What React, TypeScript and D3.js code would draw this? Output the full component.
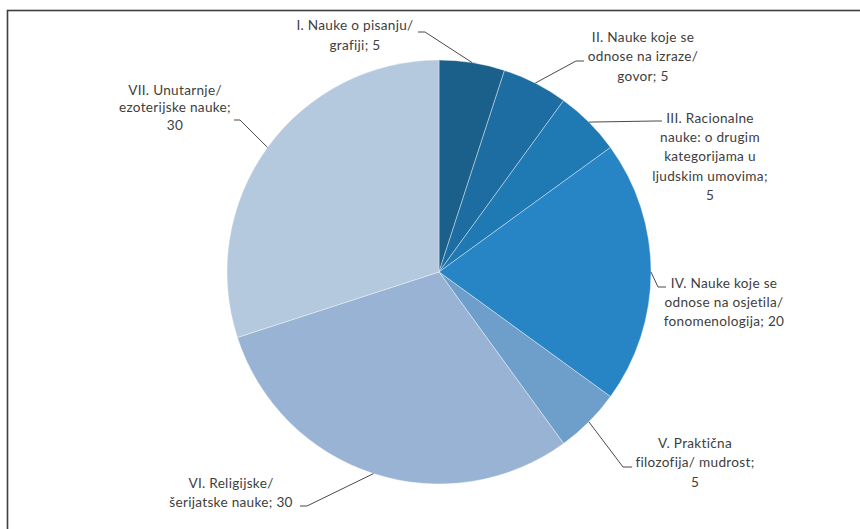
import * as React from 'react';
import * as d3 from 'd3';

const width = 860;
const height = 529;

// chart data
const categories = [
    'I. Nauke o pisanju/ grafiji',
    'II. Nauke koje se odnose na izraze/ govor',
    'III. Racionalne nauke: o drugim kategorijama u ljudskim umovima',
    'IV. Nauke koje se odnose na osjetila/ fonomenologija',
    'V. Praktična filozofija/ mudrost',
    'VI. Religijske/ šerijatske nauke',
    'VII. Unutarnje/ ezoterijske nauke',
];
const values = [5, 5, 5, 20, 5, 30, 30];

// label text as wrapped in the picture
const labelLines = [
    ['I. Nauke o pisanju/', 'grafiji; 5'],
    ['II. Nauke koje se', 'odnose na izraze/', 'govor; 5'],
    ['III. Racionalne', 'nauke: o drugim', 'kategorijama u', 'ljudskim umovima;', '5'],
    ['IV. Nauke koje se', 'odnose na osjetila/', 'fonomenologija; 20'],
    ['V. Praktična', 'filozofija/ mudrost;', '5'],
    ['VI. Religijske/', 'šerijatske nauke; 30'],
    ['VII. Unutarnje/', 'ezoterijske nauke;', '30'],
];

const colors = ['#1b5f8b', '#1d6da2', '#1f7ab4', '#2785c5', '#6e9fcb', '#99b3d4', '#b4c8de'];

// layout of the labels: text centre, first line y, line step, leader elbow and end
const labelLayout = [
    { x: 355, y: 25, step: 20, elbow: [425, 32], end: [418, 32] },
    { x: 643, y: 37, step: 19.5, elbow: [576, 61], end: [584, 61] },
    { x: 710, y: 118, step: 19.3, elbow: [655, 121], end: [662, 121] },
    { x: 724, y: 283, step: 19, elbow: [658, 287], end: [666, 287] },
    { x: 695, y: 443, step: 19.5, elbow: [623, 467], end: [632, 467] },
    { x: 231, y: 483, step: 19, elbow: [307, 506], end: [300, 506] },
    { x: 175, y: 90, step: 17.5, elbow: [240, 120], end: [234, 120] },
];

const cx = 439;
const cy = 272;
const radius = 212;

export default function App() {
    const pie = d3.pie<number>().sort(null).value(d => d);
    const arcs = pie(values);
    const arc = d3.arc<d3.PieArcDatum<number>>().innerRadius(0).outerRadius(radius);
    const edge = d3.arc<d3.PieArcDatum<number>>().innerRadius(radius).outerRadius(radius);
    const line = d3.line();

    return (
        <svg
            width={width}
            height={height}
            style={{ position: 'absolute', left: 0, top: 0, background: '#fff' }}>
            <rect x={7.5} y={10.5} width={width + 20} height={height + 20}
                fill="#fff" stroke="#3f3f3f" strokeWidth={1.6} />
            <g transform={`translate(${cx},${cy})`}>
                {arcs.map((a, i) => (
                    <path key={categories[i]} d={arc(a) || ''} fill={colors[i]}
                        stroke="#ffffff" strokeOpacity={0.55} strokeWidth={0.7} />
                ))}
            </g>
            <g fill="none" stroke="#4a4a4a" strokeWidth={1}>
                {arcs.map((a, i) => {
                    const [ex, ey] = edge.centroid(a);
                    const l = labelLayout[i];
                    const pts: [number, number][] = [
                        [cx + ex, cy + ey],
                        [l.elbow[0], l.elbow[1]],
                        [l.end[0], l.end[1]],
                    ];
                    return <path key={i} d={line(pts) || ''} />;
                })}
            </g>
            <g fontFamily="Lato, 'Open Sans', sans-serif" fontSize={13.6} fill="#404040"
                textAnchor="middle" letterSpacing={0.3}>
                {labelLines.map((lines, i) => {
                    const l = labelLayout[i];
                    return (
                        <text key={i}>
                            {lines.map((t, j) => (
                                <tspan key={j} x={l.x} y={l.y + j * l.step} dy="0.35em">{t}</tspan>
                            ))}
                        </text>
                    );
                })}
            </g>
        </svg>
    );
}
